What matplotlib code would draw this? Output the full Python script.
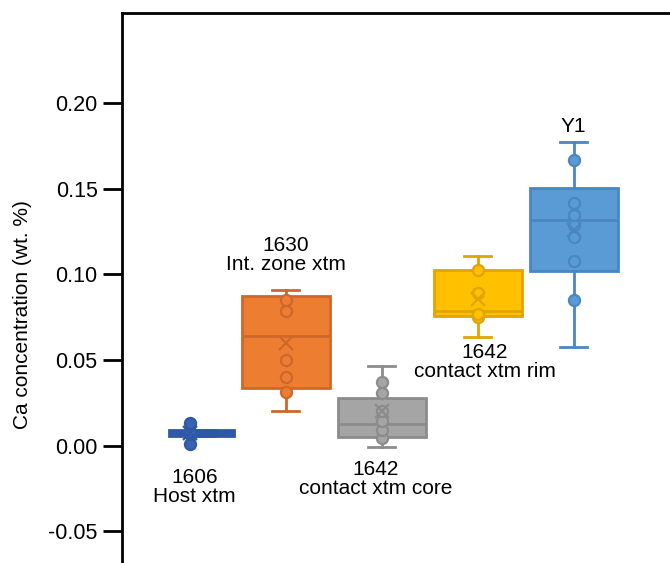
import matplotlib.pyplot as plt
import numpy as np

plt.rcParams['font.family'] = ['Liberation Sans', 'DejaVu Sans']
plt.rcParams['axes.unicode_minus'] = False

# samples and box statistics (Ca, wt. %)
labels = ['1606\nHost xtm', '1630\nInt. zone xtm', '1642\ncontact xtm core',
          '1642\ncontact xtm rim', 'Y1']
points = [
    [0.0012, 0.0068, 0.0074, 0.0078, 0.0082, 0.0134],
    [0.0315, 0.0399, 0.0502, 0.0784, 0.0852],
    [0.0045, 0.0093, 0.0142, 0.0205, 0.0307, 0.0372],
    [0.0749, 0.0768, 0.0893, 0.1023],
    [0.0848, 0.1079, 0.1215, 0.1289, 0.1344, 0.1416, 0.1669],
]
q1 = [0.0056, 0.0338, 0.0053, 0.0758, 0.1021]
med = [0.0076, 0.0642, 0.0128, 0.0784, 0.1315]
q3 = [0.0094, 0.0871, 0.0278, 0.1023, 0.1503]
whislo = [0.0056, 0.0204, -0.0010, 0.0634, 0.0574]
whishi = [0.0094, 0.0910, 0.0467, 0.1105, 0.1774]
means = [0.0076, 0.0600, 0.0200, 0.0858, 0.1260]
yticks = [-0.05, 0.00, 0.05, 0.10, 0.15, 0.20]

fills = ['#3763B2', '#ED7D31', '#A5A5A5', '#FFC000', '#5B9BD5']
edges = ['#2F58A6', '#D0672A', '#8C8C8C', '#E0A500', '#4A86C0']

# box placement (the host box is narrower and sits a bit right of its points)
box_shift = [0.12, 0, 0, 0, 0]
box_width = [0.67, 0.92, 0.92, 0.92, 0.92]

# where each caption sits: (x, y, vertical anchor)
label_pos = [(1.05, -0.0128, 'top'), (2.0, 0.1003, 'bottom'), (2.94, -0.0082, 'top'),
             (4.07, 0.0600, 'top'), (5.0, 0.1810, 'bottom')]

fig = plt.figure(figsize=(6.7, 5.63), dpi=100)
ax = fig.add_axes([122 / 670, (563 - 617) / 563, 586 / 670, 604 / 563])

pos = np.arange(1, len(labels) + 1)
for i in range(len(labels)):
    st = [dict(med=med[i], q1=q1[i], q3=q3[i], whislo=whislo[i], whishi=whishi[i],
               fliers=[])]
    ax.bxp(st, positions=[pos[i] + box_shift[i]], widths=box_width[i], capwidths=0.28,
           patch_artist=True, showfliers=False,
           boxprops=dict(facecolor=fills[i], edgecolor=edges[i], linewidth=2),
           medianprops=dict(color=edges[i], linewidth=2),
           whiskerprops=dict(color=edges[i], linewidth=2),
           capprops=dict(color=edges[i], linewidth=2),
           manage_ticks=False)
    ax.plot(np.full(len(points[i]), pos[i]), points[i], 'o', ms=8,
            mfc=fills[i], mec=edges[i], mew=1.6, zorder=4)
    ax.plot(pos[i], means[i], 'x', ms=10, mec=edges[i], mew=1.6, zorder=5)
    lx, ly, va = label_pos[i]
    ax.text(lx, ly, labels[i], ha='center', va=va, fontsize=15, linespacing=1.0)

ax.set_xlim(0.292, 6.4)
ax.set_ylim(-0.10, 0.2525)
ax.set_yticks(yticks)
ax.set_yticklabels(['%.2f' % v for v in yticks])
ax.set_xticks([])
ax.tick_params(axis='y', direction='out', length=14, width=2, pad=3.5, labelsize=15.5)
for s in ['right', 'bottom']:
    ax.spines[s].set_visible(False)
for s in ['left', 'top']:
    ax.spines[s].set_linewidth(2)
ax.set_ylabel('Ca concentration (wt. %)', fontsize=15, labelpad=12)

fig.savefig('out.png', dpi=100)
